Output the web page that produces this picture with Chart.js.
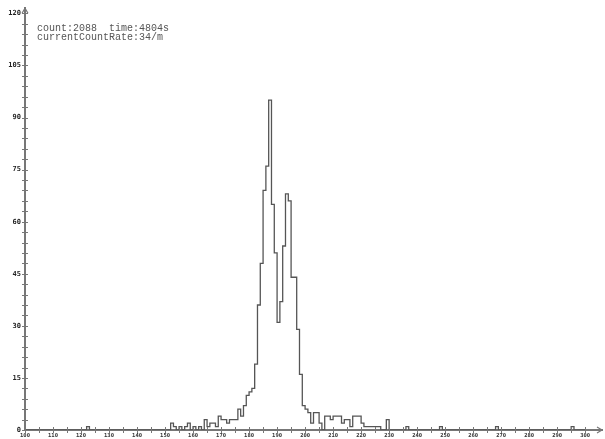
<!DOCTYPE html>
<html>
<head>
<meta charset="utf-8">
<script src="https://cdn.jsdelivr.net/npm/chart.js@4/dist/chart.umd.min.js"></script>
<style>
  html, body { margin: 0; padding: 0; background: #fff; }
  #wrap { position: relative; width: 605px; height: 439px; }
  #info {
    position: absolute; left: 37px; top: 24px;
    font: 10px "Liberation Mono", monospace; color: #555;
    white-space: pre; line-height: 9px;
  }
</style>
</head>
<body>
<div id="wrap">
  <canvas id="myChart" width="605" height="439"></canvas>
  <div id="info">count:2088  time:4804s
currentCountRate:34/m</div>
</div>
<script>
// channel of the first bin, one bin per channel
const firstChannel = 100;

// counts per channel 100..299
const counts = [
  0, 0, 0, 0, 0, 0, 0, 0, 0, 0,          // 100
  0, 0, 0, 0, 0, 0, 0, 0, 0, 0,          // 110
  0, 0, 0, 1, 0, 0, 0, 0, 0, 0,          // 120
  0, 0, 0, 0, 0, 0, 0, 0, 0, 0,          // 130
  0, 0, 0, 0, 0, 0, 0, 0, 0, 0,          // 140
  0, 0, 0, 2, 1, 0, 1, 0, 1, 2,          // 150
  0, 1, 0, 1, 0, 3, 1, 2, 2, 1,          // 160
  4, 3, 3, 2, 3, 3, 3, 6, 4, 7,          // 170
  10, 11, 12, 19, 36, 48, 69, 76, 95, 65, // 180
  51, 31, 37, 53, 68, 66, 44, 44, 29, 16, // 190
  7, 6, 5, 2, 5, 5, 2, 0, 4, 4,          // 200
  3, 4, 4, 4, 2, 3, 3, 1, 4, 4,          // 210
  4, 2, 1, 1, 1, 1, 1, 1, 0, 0,          // 220
  3, 0, 0, 0, 0, 0, 0, 1, 0, 0,          // 230
  0, 0, 0, 0, 0, 0, 0, 0, 0, 1,          // 240
  0, 0, 0, 0, 0, 0, 0, 0, 0, 0,          // 250
  0, 0, 0, 0, 0, 0, 0, 0, 0, 1,          // 260
  0, 0, 0, 0, 0, 0, 0, 0, 0, 0,          // 270
  0, 0, 0, 0, 0, 0, 0, 0, 0, 0,          // 280
  0, 0, 0, 0, 0, 0, 1, 0, 0, 0           // 290
];

const xTickLabels = [100, 110, 120, 130, 140, 150, 160, 170, 180, 190, 200,
                     210, 220, 230, 240, 250, 260, 270, 280, 290, 300];
const yTickLabels = [0, 15, 30, 45, 60, 75, 90, 105, 120];

const xMinorStep = 5;
const yMinorStep = 3;

const points = counts.map((c, i) => ({ x: firstChannel + i, y: c }));
points.push({ x: firstChannel + counts.length, y: 0 });

const axisColor = "#777";

// small ticks crossing the axes + arrow heads
const axisMarks = {
  id: "axisMarks",
  afterDraw(chart) {
    const { ctx, chartArea, scales } = chart;
    const x = scales.x, y = scales.y;
    const x0 = chartArea.left, y0 = chartArea.bottom;
    ctx.save();
    ctx.strokeStyle = axisColor;
    ctx.lineWidth = 1;
    x.ticks.forEach(t => {
      const px = Math.round(x.getPixelForValue(t.value)) + 0.5;
      ctx.beginPath();
      ctx.moveTo(px, y0 - 3);
      ctx.lineTo(px, y0 + 3);
      ctx.stroke();
    });
    y.ticks.forEach(t => {
      const py = Math.round(y.getPixelForValue(t.value)) + 0.5;
      ctx.beginPath();
      ctx.moveTo(x0 - 3, py);
      ctx.lineTo(x0 + 3, py);
      ctx.stroke();
    });
    // arrows
    ctx.lineWidth = 1.2;
    ctx.beginPath();
    ctx.moveTo(chartArea.right - 5, y0 - 3);
    ctx.lineTo(chartArea.right, y0);
    ctx.lineTo(chartArea.right - 5, y0 + 3);
    ctx.moveTo(x0 - 3, chartArea.top + 5);
    ctx.lineTo(x0, chartArea.top);
    ctx.lineTo(x0 + 3, chartArea.top + 5);
    ctx.stroke();
    ctx.restore();
  }
};

new Chart("myChart", {
  type: "line",
  data: {
    datasets: [{
      data: points,
      stepped: "after",
      borderColor: "#555",
      borderWidth: 1.3,
      pointRadius: 0,
      fill: false
    }]
  },
  options: {
    responsive: false,
    animation: false,
    layout: { padding: { top: 2, right: 3, left: 0, bottom: 0 } },
    plugins: { legend: { display: false }, tooltip: { enabled: false } },
    scales: {
      x: {
        type: "linear",
        min: 100,
        max: 306,
        afterBuildTicks: s => {
          const t = [];
          for (let v = xTickLabels[0]; v <= xTickLabels[xTickLabels.length - 1]; v += xMinorStep) t.push({ value: v });
          s.ticks = t;
        },
        afterFit: s => { s.height = 9; },
        grid: { display: false, drawTicks: false, tickLength: 0 },
        border: { color: axisColor, width: 2 },
        ticks: {
          autoSkip: false, maxRotation: 0, padding: 2,
          color: "#333", font: { family: "DejaVu Sans Mono", size: 5.5, weight: "bold" },
          callback: v => (xTickLabels.includes(v) ? String(v) : "")
        }
      },
      y: {
        min: 0,
        max: 121.5,
        afterBuildTicks: s => {
          const t = [];
          for (let v = 0; v <= yTickLabels[yTickLabels.length - 1]; v += yMinorStep) t.push({ value: v });
          s.ticks = t;
        },
        afterFit: s => { s.width = 25; },
        grid: { display: false, drawTicks: false, tickLength: 0 },
        border: { color: axisColor, width: 2 },
        ticks: {
          autoSkip: false, padding: 4,
          color: "#222", font: { family: "DejaVu Sans Mono", size: 7, weight: "bold" },
          callback: v => (yTickLabels.includes(v) ? String(v) : "")
        }
      }
    }
  },
  plugins: [axisMarks]
});
</script>
</body>
</html>
